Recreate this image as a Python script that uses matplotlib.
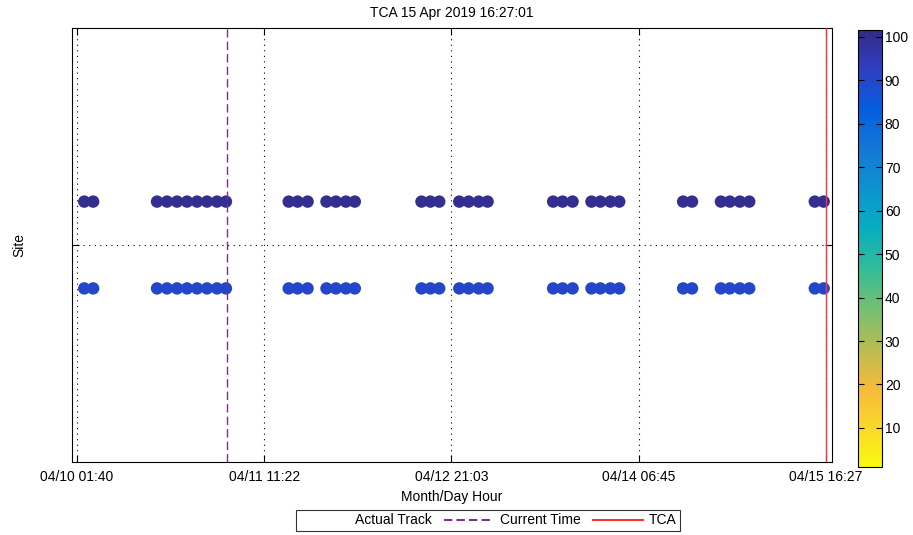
import matplotlib
matplotlib.use("Agg")
import matplotlib.pyplot as plt
from matplotlib.colors import LinearSegmentedColormap
from matplotlib.lines import Line2D

plt.rcParams['font.family'] = ['Liberation Sans', 'DejaVu Sans']
plt.rcParams['font.size'] = 10

# hours since 04/10 01:40 for each pass
pass_hours = [1.3, 2.9,
              14.4, 16.2, 18.0, 19.8, 21.6, 23.4, 25.2, 26.8,
              38.1, 39.7, 41.5,
              44.9, 46.6, 48.4, 50.0,
              62.0, 63.6, 65.2,
              68.8, 70.5, 72.3, 73.9,
              85.7, 87.4, 89.2,
              92.6, 94.2, 96.0, 97.6,
              109.1, 110.7,
              115.9, 117.5, 119.3, 121.0,
              132.8, 134.4]
site_rows = [0.6, 0.4]
row_values = [100, 90]

tick_hours = [0.0, 33.696, 67.392, 101.088, 134.784]
tick_labels = ['04/10 01:40', '04/11 11:22', '04/12 21:03', '04/14 06:45', '04/15 16:27']
current_time = 27.0
tca_time = 134.784

# reversed parula-like colormap (yellow low, dark blue high)
parula_pts = [(0.208, 0.166, 0.529), (0.180, 0.250, 0.760), (0.020, 0.370, 0.880),
              (0.080, 0.470, 0.840), (0.050, 0.580, 0.810), (0.030, 0.680, 0.750),
              (0.200, 0.740, 0.600), (0.450, 0.750, 0.450), (0.720, 0.740, 0.320),
              (0.960, 0.730, 0.240), (0.985, 0.840, 0.170), (0.976, 0.983, 0.054)]
cmap = LinearSegmentedColormap.from_list('parula_r', parula_pts[::-1])

fig = plt.figure(figsize=(9.13, 5.35), dpi=100)
ax = fig.add_axes([0.0789, 0.1364, 0.8324, 0.8113])
cax = fig.add_axes([0.9398, 0.1271, 0.0263, 0.8168])

for row, val in zip(site_rows, row_values):
    sc = ax.scatter(pass_hours, [row] * len(pass_hours), c=[val] * len(pass_hours),
                    cmap=cmap, vmin=1, vmax=101.6, s=80, linewidths=0, zorder=3)

ax.axvline(current_time, color='#7e2f8e', linestyle=(0, (6, 3)), linewidth=1, zorder=4)
ax.axvline(tca_time, color='#ff3333', linewidth=1, zorder=4)

ax.set_xlim(-0.9, 135.9)
ax.set_ylim(0, 1)
ax.set_xticks(tick_hours)
ax.set_xticklabels(tick_labels)
ax.set_yticks([0.5])
ax.set_yticklabels([])
ax.tick_params(direction='in', top=True, right=True, length=5, width=0.8, pad=6)
ax.grid(True, color='black', linestyle=(0, (1, 4)), linewidth=0.8)
for s in ax.spines.values():
    s.set_linewidth(0.8)

ax.set_title('TCA 15 Apr 2019 16:27:01', fontsize=10, pad=8)
ax.set_xlabel('Month/Day Hour', labelpad=4)
ax.set_ylabel('Site')
ax.yaxis.set_label_coords(-0.06, 0.5)

cb = fig.colorbar(sc, cax=cax)
cb.set_ticks([10, 20, 30, 40, 50, 60, 70, 80, 90, 100])
cb.ax.tick_params(direction='in', left=True, right=True, length=4, width=0.8, pad=2)
cb.outline.set_linewidth(0.8)

handles = [Line2D([], [], color='none'),
           Line2D([], [], color='#7e2f8e', linestyle=(0, (4, 2))),
           Line2D([], [], color='#ff3333')]
leg = fig.legend(handles, ['Actual Track', 'Current Time', 'TCA'], loc='lower center',
                 bbox_to_anchor=(0.534, 0.0), ncol=3, frameon=True, fancybox=False,
                 edgecolor='black', handlelength=3.6, columnspacing=0.9,
                 handletextpad=0.4, borderpad=0.25, borderaxespad=0.3)
leg.get_frame().set_linewidth(0.8)

fig.savefig('out.png', dpi=100)
